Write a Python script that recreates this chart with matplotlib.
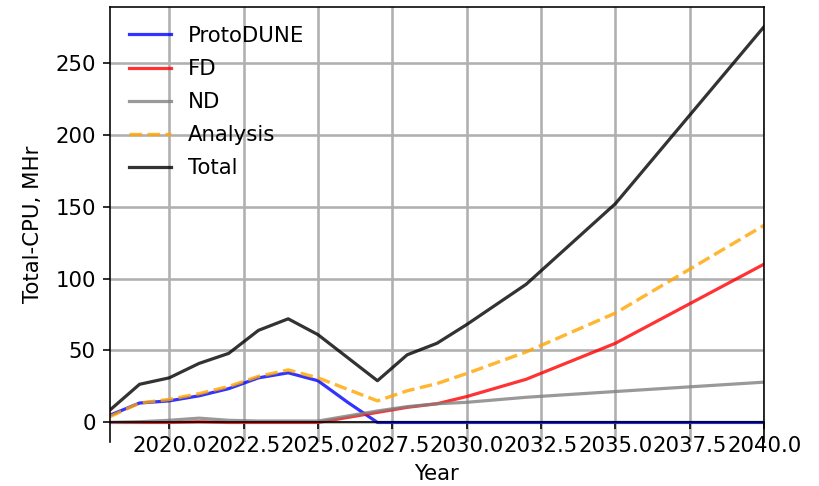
import matplotlib
matplotlib.use("Agg")
import matplotlib.pyplot as plt

years = [2018, 2019, 2020, 2021, 2022, 2023, 2024, 2025, 2026, 2027, 2028, 2029, 2030, 2032, 2035, 2040]
protodune = [5, 13.5, 15, 18.5, 23.5, 31, 34.5, 29, 14, 0, 0, 0, 0, 0, 0, 0]
fd = [0, 0, 0, 0.5, 0, 0, 0, 0, 3.5, 7, 10.5, 13, 18, 30, 55, 110]
nd = [0, 0.5, 1.5, 3, 1.5, 1, 1, 1, 4.5, 8, 11, 13, 14, 17.5, 21.5, 28]
analysis = [4, 13.5, 16, 20, 25, 32, 36.5, 31, 23, 15, 22, 27, 34, 49, 76, 137]
total = [8.5, 26.5, 31, 41, 48, 64, 72, 61, 45, 29, 47, 55, 68, 96, 152, 275]

plt.rcParams['font.size'] = 10.6

fig, ax = plt.subplots(figsize=(819/144, 486/144), dpi=144)
fig.subplots_adjust(left=0.134, right=0.933, top=0.986, bottom=0.09)

ax.plot(years, protodune, color='blue', alpha=0.8, lw=1.6, label='ProtoDUNE')
ax.plot(years, fd, color='red', alpha=0.8, lw=1.6, label='FD')
ax.plot(years, nd, color='gray', alpha=0.8, lw=1.6, label='ND')
ax.plot(years, analysis, color='orange', ls='--', alpha=0.8, lw=1.7, label='Analysis')
ax.plot(years, total, color='black', alpha=0.8, lw=1.6, label='Total')

ax.set_xlim(2018, 2040)
ax.spines['bottom'].set_position('zero')
ax.grid(True, color='#b0b0b0', lw=1.3)
ax.set_xlabel('Year')
ax.set_ylabel('Total-CPU, MHr', labelpad=6)
ax.legend(loc='upper left', frameon=False, labelspacing=0.62)

fig.savefig('out.png', dpi=144)
